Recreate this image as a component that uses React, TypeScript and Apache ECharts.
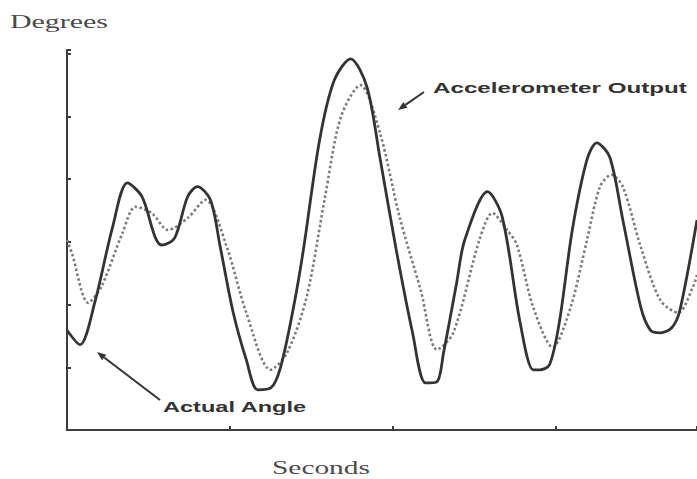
import React, { useEffect, useRef } from "react";
import * as echarts from "echarts";

// Axis ticks (no labels in the original)
const X_MAX = 3.865;
const Y_MAX = 6.06;
const TICK_INTERVAL = 1;

// Actual Angle (solid)
const actualX = [0.0, 0.08, 0.17, 0.28, 0.37, 0.46, 0.54, 0.58, 0.66, 0.74, 0.8, 0.88, 0.94, 1.02, 1.1, 1.17, 1.25, 1.31, 1.39, 1.45, 1.55, 1.64, 1.74, 1.84, 1.92, 2.02, 2.12, 2.2, 2.27, 2.31, 2.39, 2.44, 2.58, 2.67, 2.78, 2.86, 2.9, 2.96, 3.02, 3.1, 3.19, 3.25, 3.33, 3.41, 3.52, 3.58, 3.64, 3.71, 3.76, 3.865];
const actualY = [1.59, 1.36, 2.03, 3.24, 3.94, 3.72, 3.08, 2.95, 3.06, 3.72, 3.88, 3.67, 2.92, 1.87, 1.12, 0.64, 0.67, 1.0, 1.96, 2.87, 4.63, 5.58, 5.92, 5.47, 4.34, 2.87, 1.55, 0.75, 0.77, 1.23, 2.34, 3.03, 3.8, 3.4, 1.71, 0.96, 0.96, 1.04, 1.71, 3.19, 4.31, 4.58, 4.35, 3.35, 1.96, 1.59, 1.55, 1.63, 1.91, 3.35];

// Accelerometer Output (dotted)
const accelX = [0.0, 0.03, 0.13, 0.21, 0.34, 0.42, 0.52, 0.62, 0.74, 0.85, 0.98, 1.1, 1.25, 1.35, 1.47, 1.58, 1.68, 1.8, 1.92, 2.04, 2.17, 2.27, 2.37, 2.53, 2.61, 2.7, 2.76, 2.86, 2.98, 3.09, 3.19, 3.27, 3.34, 3.41, 3.52, 3.64, 3.75, 3.84, 3.865];
const accelY = [3.03, 2.82, 2.03, 2.28, 3.14, 3.56, 3.46, 3.19, 3.38, 3.67, 2.92, 1.87, 0.96, 1.23, 2.12, 3.67, 4.99, 5.5, 4.74, 3.4, 2.23, 1.28, 1.55, 3.03, 3.46, 3.19, 2.95, 1.96, 1.32, 1.96, 3.03, 3.88, 4.07, 3.88, 2.92, 2.07, 1.87, 2.28, 2.47];

const Y_TITLE = "Degrees";
const X_TITLE = "Seconds";
const ACTUAL_LABEL = "Actual Angle";
const ACCEL_LABEL = "Accelerometer Output";

const W = 697;
const H = 479;

function zip(xs: number[], ys: number[]) {
  return xs.map((x, i) => [x, ys[i]]);
}

function measure(text: string, font: string) {
  const c = document.createElement("canvas");
  const ctx = c.getContext("2d");
  if (!ctx) return text.length * 8;
  ctx.font = font;
  return ctx.measureText(text).width || text.length * 8;
}

function stretchedText(
  text: string,
  x: number,
  y: number,
  width: number,
  size: number,
  family: string,
  weight: string,
  fill: string
) {
  const w = measure(text, `${weight} ${size}px ${family}`);
  return {
    type: "text",
    x,
    y,
    scaleX: width / w,
    silent: true,
    style: {
      text,
      fontSize: size,
      fontFamily: family,
      fontWeight: weight,
      fill,
      align: "left",
      verticalAlign: "middle",
    },
  };
}

function arrow(tail: [number, number], tip: [number, number], color: string) {
  const dx = tip[0] - tail[0];
  const dy = tip[1] - tail[1];
  const len = Math.sqrt(dx * dx + dy * dy);
  const ux = dx / len;
  const uy = dy / len;
  const hl = 9;
  const hw = 3.5;
  const bx = tip[0] - ux * hl;
  const by = tip[1] - uy * hl;
  return [
    {
      type: "line",
      silent: true,
      shape: { x1: tail[0], y1: tail[1], x2: bx, y2: by },
      style: { stroke: color, lineWidth: 2 },
    },
    {
      type: "polygon",
      silent: true,
      shape: {
        points: [
          [tip[0], tip[1]],
          [bx - uy * hw, by + ux * hw],
          [bx + uy * hw, by - ux * hw],
        ],
      },
      style: { fill: color },
    },
  ];
}

export default function App() {
  const ref = useRef<HTMLDivElement>(null);

  useEffect(() => {
    if (!ref.current) return;
    document.body.style.margin = "0";
    const chart = echarts.init(ref.current, undefined, { renderer: "svg" });
    const serif = '"Liberation Serif", "Times New Roman", serif';
    const sans = '"Liberation Sans", Arial, sans-serif';
    const dark = "#333333";
    const axisStyle = { show: true, lineStyle: { color: "#3c3c3c", width: 2 } };
    const tickStyle = { show: true, inside: true, length: 4, lineStyle: { color: "#3c3c3c", width: 2 } };

    chart.setOption({
      animation: false,
      backgroundColor: "#ffffff",
      grid: { left: 67, right: 0, top: 50, bottom: 49, containLabel: false },
      xAxis: {
        type: "value",
        min: 0,
        max: X_MAX,
        interval: TICK_INTERVAL,
        axisLine: axisStyle,
        axisTick: tickStyle,
        axisLabel: { show: false },
        splitLine: { show: false },
      },
      yAxis: {
        type: "value",
        min: 0,
        max: Y_MAX,
        interval: TICK_INTERVAL,
        axisLine: axisStyle,
        axisTick: tickStyle,
        axisLabel: { show: false },
        splitLine: { show: false },
      },
      series: [
        {
          name: ACCEL_LABEL,
          type: "line",
          data: zip(accelX, accelY),
          smooth: 0.3,
          showSymbol: false,
          lineStyle: { color: "#7a7a7a", width: 2.6, type: [2.5, 2.5] },
          z: 2,
        },
        {
          name: ACTUAL_LABEL,
          type: "line",
          data: zip(actualX, actualY),
          smooth: 0.3,
          showSymbol: false,
          lineStyle: { color: dark, width: 2.8 },
          z: 3,
        },
      ],
      graphic: [
        stretchedText(Y_TITLE, 10, 22, 98, 18, serif, "normal", "#4a4a4a"),
        stretchedText(X_TITLE, 272, 468, 98, 18, serif, "normal", "#4a4a4a"),
        stretchedText(ACCEL_LABEL, 433, 88, 254, 15, sans, "bold", dark),
        stretchedText(ACTUAL_LABEL, 163, 407, 144, 15, sans, "bold", dark),
        ...arrow([424, 92], [398, 110], dark),
        ...arrow([160, 400], [97, 352], dark),
      ],
    });
    return () => chart.dispose();
  }, []);

  return (
    <div
      ref={ref}
      style={{ position: "fixed", left: 0, top: 0, width: W, height: H, background: "#fff" }}
    />
  );
}
